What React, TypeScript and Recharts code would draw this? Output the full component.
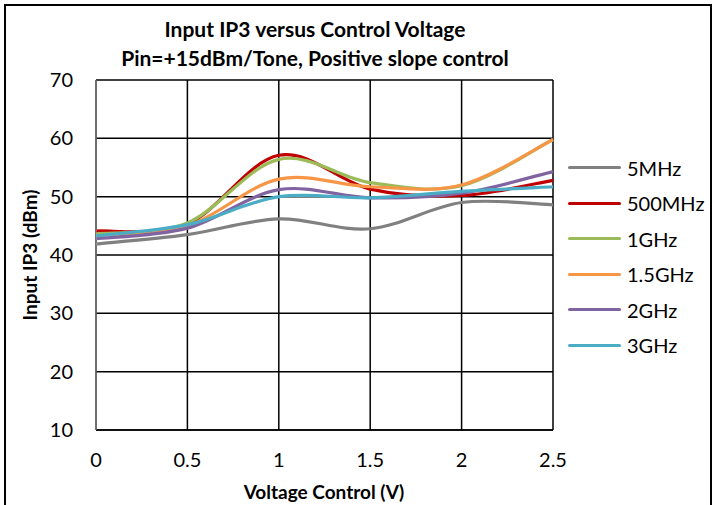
import { CartesianGrid, Label, Line, LineChart, XAxis, YAxis } from "recharts"

const volts = [0, 0.5, 1, 1.5, 2, 2.5]
const mhz5 = [41.9, 43.5, 46.2, 44.5, 49.0, 48.6]
const mhz500 = [44.1, 45.3, 57.1, 51.3, 50.2, 52.8]
const ghz1 = [43.6, 45.5, 56.4, 52.4, 51.9, 59.8]
const ghz15 = [43.3, 45.0, 53.0, 51.7, 52.0, 59.8]
const ghz2 = [42.8, 44.6, 51.2, 49.8, 50.6, 54.3]
const ghz3 = [43.3, 45.2, 50.0, 49.8, 50.9, 51.7]

const xTicks = [0, 0.5, 1, 1.5, 2, 2.5]
const yTicks = [10, 20, 30, 40, 50, 60, 70]

const series = [
  { key: "5MHz", values: mhz5, color: "#808080" },
  { key: "500MHz", values: mhz500, color: "#C00000" },
  { key: "1GHz", values: ghz1, color: "#9BBB59" },
  { key: "1.5GHz", values: ghz15, color: "#F79646" },
  { key: "2GHz", values: ghz2, color: "#8064A2" },
  { key: "3GHz", values: ghz3, color: "#4BACC6" },
]

const rows = volts.map((v, i) => {
  const row: Record<string, number> = { v }
  series.forEach((s) => (row[s.key] = s.values[i]))
  return row
})

// Excel-style smoothed line (Catmull-Rom through the points)
const smooth = (ctx: any) => {
  let pts: number[][] = []
  return {
    areaStart() {},
    areaEnd() {},
    lineStart() {
      pts = []
    },
    point(x: number, y: number) {
      pts.push([+x, +y])
    },
    lineEnd() {
      if (!pts.length) return
      ctx.moveTo(pts[0][0], pts[0][1])
      for (let i = 0; i < pts.length - 1; i++) {
        const p0 = pts[i - 1] || pts[i]
        const p1 = pts[i]
        const p2 = pts[i + 1]
        const p3 = pts[i + 2] || p2
        ctx.bezierCurveTo(
          p1[0] + (p2[0] - p0[0]) / 6,
          p1[1] + (p2[1] - p0[1]) / 6,
          p2[0] - (p3[0] - p1[0]) / 6,
          p2[1] - (p3[1] - p1[1]) / 6,
          p2[0],
          p2[1]
        )
      }
    },
  }
}

const font = "Lato, 'Open Sans', sans-serif"
const labelStyle = { fontFamily: font, fontWeight: 700, fontSize: 19, fill: "#000" }

function LegendBox() {
  return (
    <div style={{ position: "absolute", left: 568, top: 150, fontFamily: font, fontSize: 20, color: "#000" }}>
      {series.map((s) => (
        <div key={s.key} style={{ display: "flex", alignItems: "center", height: 35.5 }}>
          <div style={{ width: 53, height: 3, background: s.color, borderRadius: 2, marginRight: 6 }} />
          <span>{s.key}</span>
        </div>
      ))}
    </div>
  )
}

export default function App() {
  return (
    <div style={{ position: "absolute", left: 0, top: 0, width: 715, height: 505, background: "#fff", overflow: "hidden" }}>
      <div style={{ position: "absolute", left: 4, top: 4, width: 704, height: 520, border: "2px solid #000" }} />
      <div style={{ position: "absolute", left: 0, top: 14, width: 630, textAlign: "center", fontFamily: font, fontWeight: 700, fontSize: 21, lineHeight: "29px" }}>
        <div>Input IP3 versus Control Voltage</div>
        <div>Pin=+15dBm/Tone, Positive slope control</div>
      </div>
      <LineChart width={715} height={505} data={rows} margin={{ top: 80, right: 162, bottom: 0, left: 0 }}>
        <CartesianGrid stroke="#000" strokeWidth={1.5} />
        <XAxis
          dataKey="v"
          type="number"
          domain={[0, 2.5]}
          ticks={xTicks}
          height={75}
          tickLine={false}
          stroke="#000"
          strokeWidth={1.5}
          tickMargin={17}
          tick={{ fill: "#000", fontSize: 20, fontFamily: font }}
        >
          <Label
            content={() => (
              <text x={324} y={499} textAnchor="middle" style={labelStyle}>
                Voltage Control (V)
              </text>
            )}
          />
        </XAxis>
        <YAxis
          type="number"
          domain={[10, 70]}
          ticks={yTicks}
          width={96}
          tickLine={false}
          stroke="#a0a0a0"
          tickMargin={17}
          tick={{ fill: "#000", fontSize: 20, fontFamily: font }}
        >
          <Label
            content={() => (
              <text transform="translate(37 255) rotate(-90)" textAnchor="middle" style={labelStyle}>
                Input IP3 (dBm)
              </text>
            )}
          />
        </YAxis>
        {series.map((s) => (
          <Line
            key={s.key}
            dataKey={s.key}
            type={smooth as any}
            stroke={s.color}
            strokeWidth={3.2}
            dot={false}
            isAnimationActive={false}
          />
        ))}
      </LineChart>
      <LegendBox />
    </div>
  )
}
